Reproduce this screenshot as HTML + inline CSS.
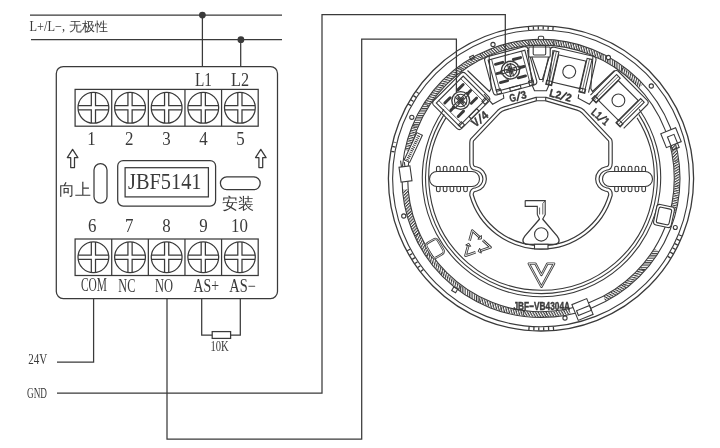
<!DOCTYPE html>
<html><head><meta charset="utf-8"><style>
html,body{margin:0;padding:0;background:#fff;width:720px;height:448px;overflow:hidden}
svg{display:block;will-change:transform}
</style></head><body>
<svg width="720" height="448" viewBox="0 0 720 448">
<g stroke="#3a3a3a" stroke-width="1.25" fill="none">
<path d="M30,15.1H282M31,39.7H282" />
<path d="M202.4,15.1V66.5M240.7,39.7V66.5" />
<rect x="56.3" y="66.5" width="221.2" height="232" rx="7" />
<rect x="75.1" y="89.4" width="183.1" height="36.8" />
<path d="M111.72,89.4V126.2" />
<path d="M148.34,89.4V126.2" />
<path d="M184.96,89.4V126.2" />
<path d="M221.58,89.4V126.2" />
<circle cx="93.41" cy="107.80" r="15.4" />
<path d="M91.31,92.54V105.70H78.15M78.15,109.90H91.31V123.06M95.51,123.06V109.90H108.67M108.67,105.70H95.51V92.54" />
<circle cx="130.03" cy="107.80" r="15.4" />
<path d="M127.93,92.54V105.70H114.77M114.77,109.90H127.93V123.06M132.13,123.06V109.90H145.29M145.29,105.70H132.13V92.54" />
<circle cx="166.65" cy="107.80" r="15.4" />
<path d="M164.55,92.54V105.70H151.39M151.39,109.90H164.55V123.06M168.75,123.06V109.90H181.91M181.91,105.70H168.75V92.54" />
<circle cx="203.27" cy="107.80" r="15.4" />
<path d="M201.17,92.54V105.70H188.01M188.01,109.90H201.17V123.06M205.37,123.06V109.90H218.53M218.53,105.70H205.37V92.54" />
<circle cx="239.89" cy="107.80" r="15.4" />
<path d="M237.79,92.54V105.70H224.63M224.63,109.90H237.79V123.06M241.99,123.06V109.90H255.15M255.15,105.70H241.99V92.54" />
<rect x="75.1" y="239.0" width="183.1" height="36.5" />
<path d="M111.72,239.0V275.5" />
<path d="M148.34,239.0V275.5" />
<path d="M184.96,239.0V275.5" />
<path d="M221.58,239.0V275.5" />
<circle cx="93.41" cy="257.25" r="15.4" />
<path d="M91.31,241.99V255.15H78.15M78.15,259.35H91.31V272.51M95.51,272.51V259.35H108.67M108.67,255.15H95.51V241.99" />
<circle cx="130.03" cy="257.25" r="15.4" />
<path d="M127.93,241.99V255.15H114.77M114.77,259.35H127.93V272.51M132.13,272.51V259.35H145.29M145.29,255.15H132.13V241.99" />
<circle cx="166.65" cy="257.25" r="15.4" />
<path d="M164.55,241.99V255.15H151.39M151.39,259.35H164.55V272.51M168.75,272.51V259.35H181.91M181.91,255.15H168.75V241.99" />
<circle cx="203.27" cy="257.25" r="15.4" />
<path d="M201.17,241.99V255.15H188.01M188.01,259.35H201.17V272.51M205.37,272.51V259.35H218.53M218.53,255.15H205.37V241.99" />
<circle cx="239.89" cy="257.25" r="15.4" />
<path d="M237.79,241.99V255.15H224.63M224.63,259.35H237.79V272.51M241.99,272.51V259.35H255.15M255.15,255.15H241.99V241.99" />
<path d="M72.6,149.3L77.89999999999999,157.60000000000002H74.5V167.60000000000002H70.69999999999999V157.60000000000002H67.3Z" stroke-linejoin="round" />
<path d="M260.8,149.3L266.1,157.60000000000002H262.7V167.60000000000002H258.90000000000003V157.60000000000002H255.5Z" stroke-linejoin="round" />
<rect x="94" y="163.6" width="13" height="39.6" rx="6.5" />
<rect x="220.4" y="176.9" width="39.8" height="12.8" rx="6.4" />
<rect x="117.7" y="160.5" width="97.9" height="45.6" rx="5.5" />
<rect x="125.1" y="167.7" width="83.3" height="29.2" />
<path d="M93.6,298.5V362.2H57" />
<path d="M57,393H322V14.7H505.3V67" />
<path d="M167,298.5V439.2H361.7V39.1H456.4V98" />
<path d="M201.7,298.5V335H212.2M230.6,335H240.3V298.5" />
<rect x="212.2" y="331.6" width="18.4" height="6.8" />
</g>
<g fill="#3a3a3a" stroke="none"><circle cx="202.4" cy="15.1" r="3.4"/><circle cx="240.9" cy="39.7" r="3.4"/></g>
<g fill="#3a3a3a">
<text x="29.5" y="30.7" font-size="14" font-family="Liberation Serif" text-anchor="start" textLength="35.5" lengthAdjust="spacingAndGlyphs" >L+/L−,</text>
<text x="68.8" y="31.2" font-size="12.8" font-family="Liberation Serif" text-anchor="start" >无极性</text>
<text x="195" y="85.9" font-size="18" font-family="Liberation Serif" text-anchor="start" textLength="17" lengthAdjust="spacingAndGlyphs" >L1</text>
<text x="231" y="85.9" font-size="18" font-family="Liberation Serif" text-anchor="start" textLength="18" lengthAdjust="spacingAndGlyphs" >L2</text>
<text transform="translate(91.5,145) scale(0.88,1)" font-size="19.2" font-family="Liberation Serif" text-anchor="middle" >1</text>
<text transform="translate(129.3,145) scale(0.88,1)" font-size="19.2" font-family="Liberation Serif" text-anchor="middle" >2</text>
<text transform="translate(166.5,145) scale(0.88,1)" font-size="19.2" font-family="Liberation Serif" text-anchor="middle" >3</text>
<text transform="translate(203.5,145) scale(0.88,1)" font-size="19.2" font-family="Liberation Serif" text-anchor="middle" >4</text>
<text transform="translate(240.5,145) scale(0.88,1)" font-size="19.2" font-family="Liberation Serif" text-anchor="middle" >5</text>
<text transform="translate(92.3,231.6) scale(0.88,1)" font-size="19.2" font-family="Liberation Serif" text-anchor="middle" >6</text>
<text transform="translate(129.3,231.6) scale(0.88,1)" font-size="19.2" font-family="Liberation Serif" text-anchor="middle" >7</text>
<text transform="translate(166.5,231.6) scale(0.88,1)" font-size="19.2" font-family="Liberation Serif" text-anchor="middle" >8</text>
<text transform="translate(203.5,231.6) scale(0.88,1)" font-size="19.2" font-family="Liberation Serif" text-anchor="middle" >9</text>
<text transform="translate(239.5,231.6) scale(0.88,1)" font-size="19.2" font-family="Liberation Serif" text-anchor="middle" >10</text>
<text x="128" y="188.5" font-size="22.3" font-family="Liberation Serif" text-anchor="start" textLength="73.5" lengthAdjust="spacingAndGlyphs" >JBF5141</text>
<text x="58.5" y="194.5" font-size="16" font-family="Liberation Serif" text-anchor="start" >向上</text>
<text x="222" y="209" font-size="16" font-family="Liberation Serif" text-anchor="start" >安装</text>
<text x="81" y="290.8" font-size="18" font-family="Liberation Serif" text-anchor="start" textLength="26" lengthAdjust="spacingAndGlyphs" >COM</text>
<text x="118.3" y="292" font-size="18" font-family="Liberation Serif" text-anchor="start" textLength="17" lengthAdjust="spacingAndGlyphs" >NC</text>
<text x="155" y="291.8" font-size="18" font-family="Liberation Serif" text-anchor="start" textLength="18" lengthAdjust="spacingAndGlyphs" >NO</text>
<text x="193.5" y="291.8" font-size="18" font-family="Liberation Serif" text-anchor="start" textLength="25.5" lengthAdjust="spacingAndGlyphs" >AS+</text>
<text x="229.3" y="291.8" font-size="18" font-family="Liberation Serif" text-anchor="start" textLength="26.5" lengthAdjust="spacingAndGlyphs" >AS−</text>
<text x="210.4" y="350.9" font-size="14.3" font-family="Liberation Serif" text-anchor="start" textLength="18.3" lengthAdjust="spacingAndGlyphs" >10K</text>
<text x="28.2" y="364.3" font-size="14.5" font-family="Liberation Serif" text-anchor="start" textLength="19" lengthAdjust="spacingAndGlyphs" >24V</text>
<text x="27" y="398.4" font-size="14.5" font-family="Liberation Serif" text-anchor="start" textLength="20" lengthAdjust="spacingAndGlyphs" >GND</text>
</g>
<defs><pattern id="hatch0" patternUnits="userSpaceOnUse" width="2.3" height="2.3" patternTransform="rotate(0)"><rect x="0" y="0" width="1.15" height="2.3" fill="#3a3a3a"/></pattern><pattern id="hatch1" patternUnits="userSpaceOnUse" width="2.3" height="2.3" patternTransform="rotate(15)"><rect x="0" y="0" width="1.15" height="2.3" fill="#3a3a3a"/></pattern><pattern id="hatch2" patternUnits="userSpaceOnUse" width="2.3" height="2.3" patternTransform="rotate(30)"><rect x="0" y="0" width="1.15" height="2.3" fill="#3a3a3a"/></pattern><pattern id="hatch3" patternUnits="userSpaceOnUse" width="2.3" height="2.3" patternTransform="rotate(45)"><rect x="0" y="0" width="1.15" height="2.3" fill="#3a3a3a"/></pattern><pattern id="hatch4" patternUnits="userSpaceOnUse" width="2.3" height="2.3" patternTransform="rotate(60)"><rect x="0" y="0" width="1.15" height="2.3" fill="#3a3a3a"/></pattern><pattern id="hatch5" patternUnits="userSpaceOnUse" width="2.3" height="2.3" patternTransform="rotate(75)"><rect x="0" y="0" width="1.15" height="2.3" fill="#3a3a3a"/></pattern><pattern id="hatch6" patternUnits="userSpaceOnUse" width="2.3" height="2.3" patternTransform="rotate(90)"><rect x="0" y="0" width="1.15" height="2.3" fill="#3a3a3a"/></pattern><pattern id="hatch7" patternUnits="userSpaceOnUse" width="2.3" height="2.3" patternTransform="rotate(105)"><rect x="0" y="0" width="1.15" height="2.3" fill="#3a3a3a"/></pattern><pattern id="hatch8" patternUnits="userSpaceOnUse" width="2.3" height="2.3" patternTransform="rotate(120)"><rect x="0" y="0" width="1.15" height="2.3" fill="#3a3a3a"/></pattern><pattern id="hatch9" patternUnits="userSpaceOnUse" width="2.3" height="2.3" patternTransform="rotate(135)"><rect x="0" y="0" width="1.15" height="2.3" fill="#3a3a3a"/></pattern><pattern id="hatch10" patternUnits="userSpaceOnUse" width="2.3" height="2.3" patternTransform="rotate(150)"><rect x="0" y="0" width="1.15" height="2.3" fill="#3a3a3a"/></pattern><pattern id="hatch11" patternUnits="userSpaceOnUse" width="2.3" height="2.3" patternTransform="rotate(165)"><rect x="0" y="0" width="1.15" height="2.3" fill="#3a3a3a"/></pattern></defs>
<g stroke="#3a3a3a" fill="none" stroke-width="1.1">
<circle cx="541.0" cy="178.4" r="152.6" stroke-width="1.3" />
<circle cx="541.0" cy="178.4" r="148.4" />
<path d="M527.88,28.47A150.5,150.5 0 0 1 554.12,28.47" stroke-width="3.3" stroke-dasharray="1.3 3.6" />
<path d="M554.12,328.33A150.5,150.5 0 0 1 527.88,328.33" stroke-width="3.3" stroke-dasharray="1.3 3.6" />
<path d="M409.37,105.44A150.5,150.5 0 0 1 417.72,92.08" stroke-width="3.3" stroke-dasharray="1.3 3.6" />
<path d="M422.40,271.06A150.5,150.5 0 0 1 408.12,249.06" stroke-width="3.3" stroke-dasharray="1.3 3.6" />
<path d="M680.54,234.78A150.5,150.5 0 0 1 668.63,258.15" stroke-width="3.3" stroke-dasharray="1.3 3.6" />
<path d="M392.79,152.27A150.5,150.5 0 0 1 394.97,141.99" stroke-width="3.3" stroke-dasharray="1.3 3.6" />
<circle cx="541.0" cy="178.4" r="139" />
<circle cx="541.0" cy="178.4" r="133.3" />
<path d="M570.00,311.42A136.15,136.15 0 0 1 545.75,314.47" stroke-width="5" stroke="url(#hatch10)" />
<path d="M547.18,314.41A136.15,136.15 0 0 1 522.76,313.32" stroke-width="5" stroke="url(#hatch10)" />
<path d="M524.17,313.51A136.15,136.15 0 0 1 500.29,308.32" stroke-width="5" stroke="url(#hatch11)" />
<path d="M501.65,308.74A136.15,136.15 0 0 1 478.98,299.60" stroke-width="5" stroke="url(#hatch11)" />
<path d="M480.25,300.25A136.15,136.15 0 0 1 459.44,287.42" stroke-width="5" stroke="url(#hatch0)" />
<path d="M460.59,288.27A136.15,136.15 0 0 1 442.24,272.12" stroke-width="5" stroke="url(#hatch1)" />
<path d="M443.23,273.15A136.15,136.15 0 0 1 427.86,254.14" stroke-width="5" stroke="url(#hatch1)" />
<path d="M428.66,255.32A136.15,136.15 0 0 1 416.72,233.99" stroke-width="5" stroke="url(#hatch2)" />
<path d="M417.31,235.29A136.15,136.15 0 0 1 409.13,212.26" stroke-width="5" stroke="url(#hatch3)" />
<path d="M409.49,213.64A136.15,136.15 0 0 1 405.31,189.56" stroke-width="5" stroke="url(#hatch3)" />
<path d="M407.68,150.79A136.15,136.15 0 0 1 415.41,125.82" stroke-width="5" stroke="url(#hatch5)" />
<path d="M414.87,127.14A136.15,136.15 0 0 1 426.99,103.98" stroke-width="5" stroke="url(#hatch6)" />
<path d="M426.21,105.18A136.15,136.15 0 0 1 442.32,84.59" stroke-width="5" stroke="url(#hatch7)" />
<path d="M441.35,85.63A136.15,136.15 0 0 1 460.91,68.30" stroke-width="5" stroke="url(#hatch7)" />
<path d="M459.76,69.14A136.15,136.15 0 0 1 482.14,55.63" stroke-width="5" stroke="url(#hatch8)" />
<path d="M480.85,56.26A136.15,136.15 0 0 1 505.30,47.01" stroke-width="5" stroke="url(#hatch9)" />
<path d="M503.93,47.39A136.15,136.15 0 0 1 529.65,42.72" stroke-width="5" stroke="url(#hatch9)" />
<path d="M528.23,42.85A136.15,136.15 0 0 1 554.36,42.91" stroke-width="5" stroke="url(#hatch10)" />
<path d="M552.95,42.78A136.15,136.15 0 0 1 578.64,47.56" stroke-width="5" stroke="url(#hatch11)" />
<path d="M577.27,47.17A136.15,136.15 0 0 1 601.68,56.52" stroke-width="5" stroke="url(#hatch11)" />
<path d="M600.40,55.89A136.15,136.15 0 0 1 622.72,69.50" stroke-width="5" stroke="url(#hatch0)" />
<path d="M621.57,68.65A136.15,136.15 0 0 1 641.06,86.07" stroke-width="5" stroke="url(#hatch1)" />
<path d="M670.26,135.65A136.15,136.15 0 0 1 676.13,161.73" stroke-width="5" stroke="url(#hatch3)" />
<path d="M675.94,160.31A136.15,136.15 0 0 1 676.88,187.03" stroke-width="5" stroke="url(#hatch4)" />
<path d="M676.96,185.60A136.15,136.15 0 0 1 672.93,212.03" stroke-width="5" stroke="url(#hatch5)" />
<path d="M656.84,249.94A136.15,136.15 0 0 1 641.70,270.03" stroke-width="5" stroke="url(#hatch6)" />
<path d="M642.65,268.97A136.15,136.15 0 0 1 624.26,286.13" stroke-width="5" stroke="url(#hatch7)" />
<path d="M625.38,285.25A136.15,136.15 0 0 1 604.29,298.95" stroke-width="5" stroke="url(#hatch8)" />
<path d="M639.14,109.23A119.2,119.2 0 1 1 443.86,109.23" />
<path d="M638.79,114.42A116.0,116.0 0 1 1 444.21,114.42" />
<path d="M637.08,117.88A112.7,112.7 0 1 1 445.92,117.88" />
<g transform="translate(618.4,100.4) rotate(45)"><path d="M-23.5,16V-17Q-23.5,-20.5 -20,-20.5H20Q23.5,-20.5 23.5,-17V16" /><rect x="-14" y="-14" width="28" height="28" /><rect x="-19.5" y="-17" width="5" height="34" /><rect x="14.5" y="-17" width="5" height="34" /><path d="M-17,-17V17M17,-17V17" stroke-width="0.7"/><rect x="-20" y="13.5" width="6" height="4" /><rect x="14" y="13.5" width="6" height="4" /><circle cx="0" cy="0" r="6.4" /></g>
<g transform="translate(569.2,71.7) rotate(13)"><path d="M-23.5,16V-17Q-23.5,-20.5 -20,-20.5H20Q23.5,-20.5 23.5,-17V16" /><rect x="-14" y="-14" width="28" height="28" /><rect x="-19.5" y="-17" width="5" height="34" /><rect x="14.5" y="-17" width="5" height="34" /><path d="M-17,-17V17M17,-17V17" stroke-width="0.7"/><rect x="-20" y="13.5" width="6" height="4" /><rect x="14" y="13.5" width="6" height="4" /><circle cx="0" cy="0" r="6.4" /></g>
<g transform="translate(510.5,70.1) rotate(-15)"><rect x="-22.5" y="-19" width="45" height="39.5" rx="3.5" /><rect x="-19" y="-15.5" width="38" height="32.5" /><path d="M-15.5,-15.5V17M15.5,-15.5V17" stroke-width="0.8"/><rect x="-5.5" y="17" width="11" height="3.5" /><rect x="-19" y="15.5" width="4.5" height="4.5" /><rect x="14.5" y="15.5" width="4.5" height="4.5" /><path d="M-13,-9.5H-5.5M5.5,-9.5H13M-14,0H-10M10,0H14M-13,9.5H-5.5M5.5,9.5H13" stroke-width="2.9" stroke-linecap="round" /><circle cx="0" cy="0" r="8.9" fill="#fff" stroke-width="1.4"/><circle cx="0" cy="0" r="6.2" /><path d="M-10.5,-1.5H10.5M-10.5,1.5H10.5M-1.5,-7V7M1.5,-7V7" stroke-width="1.1" /><path d="M-4.5,0H4.5M0,-4.5V4.5" stroke-width="1.6" /></g>
<g transform="translate(460.7,100.5) rotate(-45)"><rect x="-22.5" y="-19" width="45" height="39.5" rx="3.5" /><rect x="-19" y="-15.5" width="38" height="32.5" /><path d="M-15.5,-15.5V17M15.5,-15.5V17" stroke-width="0.8"/><rect x="-5.5" y="17" width="11" height="3.5" /><rect x="-19" y="15.5" width="4.5" height="4.5" /><rect x="14.5" y="15.5" width="4.5" height="4.5" /><path d="M-13,-9.5H-5.5M5.5,-9.5H13M-14,0H-10M10,0H14M-13,9.5H-5.5M5.5,9.5H13" stroke-width="2.9" stroke-linecap="round" /><circle cx="0" cy="0" r="8.9" fill="#fff" stroke-width="1.4"/><circle cx="0" cy="0" r="6.2" /><path d="M-10.5,-1.5H10.5M-10.5,1.5H10.5M-1.5,-7V7M1.5,-7V7" stroke-width="1.1" /><path d="M-4.5,0H4.5M0,-4.5V4.5" stroke-width="1.6" /></g>
<rect x="528.8" y="47" width="21.4" height="10" rx="1" fill="#fff"/><rect x="533.2" y="45.5" width="12.5" height="9.5" rx="1.2" />
<rect x="538.3" y="36.3" width="5.4" height="3.4" rx="1.5" fill="#fff"/>
<path d="M531.80,56.80 L539.60,79.50 L542.40,79.50 L549.30,56.80" />
<path d="M527.50,50.00 L532.50,86.00 L534.50,90.80 L546.50,90.80 L548.50,86.00 L553.00,50.00" />
<path d="M593.00,55.00 L590.80,88.50 L592.50,91.50 L614.50,70.50" /><path d="M489.00,55.00 L491.20,88.50 L489.50,91.50 L467.50,70.50" />
<path d="M578.70,94.40 L578.20,98.30 L589.40,104.20 L598.00,94.00" /><path d="M503.30,94.40 L503.80,98.30 L492.60,104.20 L484.00,94.00" />
<path d="M536.5,99 H545.5 L577.5,108.5 Q581,109.5 583,111.5 L610,140 Q610.5,141 610.5,143 V163 Q610.5,168.5 606,168.5 A10.7,10.7 0 0 0 606,189.5 Q610.5,189.5 610.5,195 A72.3,72.3 0 0 1 471.5,195 Q471.5,189.5 476,189.5 A10.7,10.7 0 0 0 476,168.5 Q471.5,168.5 471.5,163 V143 Q471.5,141 472,140 L499,111.5 Q501,109.5 504.5,108.5 Z" stroke-width="4.6" stroke-linejoin="round" />
<path d="M536.5,99 H545.5 L577.5,108.5 Q581,109.5 583,111.5 L610,140 Q610.5,141 610.5,143 V163 Q610.5,168.5 606,168.5 A10.7,10.7 0 0 0 606,189.5 Q610.5,189.5 610.5,195 A72.3,72.3 0 0 1 471.5,195 Q471.5,189.5 476,189.5 A10.7,10.7 0 0 0 476,168.5 Q471.5,168.5 471.5,163 V143 Q471.5,141 472,140 L499,111.5 Q501,109.5 504.5,108.5 Z" stroke="#fff" stroke-width="2.3" stroke-linejoin="round" />
<path d="M536.3,97V100.8M545.7,97V100.8" />
<rect x="429.50" y="171.5" width="50.00" height="15" rx="7.5" fill="#fff" />
<path d="M463.70,171.5V167.8Q463.70,166.3 465.50,166.3Q467.30,166.3 467.30,167.8V171.5" />
<path d="M463.70,186.5V190.2Q463.70,191.7 465.50,191.7Q467.30,191.7 467.30,190.2V186.5" />
<path d="M456.90,171.5V167.8Q456.90,166.3 458.70,166.3Q460.50,166.3 460.50,167.8V171.5" />
<path d="M456.90,186.5V190.2Q456.90,191.7 458.70,191.7Q460.50,191.7 460.50,190.2V186.5" />
<path d="M450.10,171.5V167.8Q450.10,166.3 451.90,166.3Q453.70,166.3 453.70,167.8V171.5" />
<path d="M450.10,186.5V190.2Q450.10,191.7 451.90,191.7Q453.70,191.7 453.70,190.2V186.5" />
<path d="M443.30,171.5V167.8Q443.30,166.3 445.10,166.3Q446.90,166.3 446.90,167.8V171.5" />
<path d="M443.30,186.5V190.2Q443.30,191.7 445.10,191.7Q446.90,191.7 446.90,190.2V186.5" />
<path d="M436.50,171.5V167.8Q436.50,166.3 438.30,166.3Q440.10,166.3 440.10,167.8V171.5" />
<path d="M436.50,186.5V190.2Q436.50,191.7 438.30,191.7Q440.10,191.7 440.10,190.2V186.5" />
<rect x="602.50" y="171.5" width="50.00" height="15" rx="7.5" fill="#fff" />
<path d="M614.70,171.5V167.8Q614.70,166.3 616.50,166.3Q618.30,166.3 618.30,167.8V171.5" />
<path d="M614.70,186.5V190.2Q614.70,191.7 616.50,191.7Q618.30,191.7 618.30,190.2V186.5" />
<path d="M621.50,171.5V167.8Q621.50,166.3 623.30,166.3Q625.10,166.3 625.10,167.8V171.5" />
<path d="M621.50,186.5V190.2Q621.50,191.7 623.30,191.7Q625.10,191.7 625.10,190.2V186.5" />
<path d="M628.30,171.5V167.8Q628.30,166.3 630.10,166.3Q631.90,166.3 631.90,167.8V171.5" />
<path d="M628.30,186.5V190.2Q628.30,191.7 630.10,191.7Q631.90,191.7 631.90,190.2V186.5" />
<path d="M635.10,171.5V167.8Q635.10,166.3 636.90,166.3Q638.70,166.3 638.70,167.8V171.5" />
<path d="M635.10,186.5V190.2Q635.10,191.7 636.90,191.7Q638.70,191.7 638.70,190.2V186.5" />
<path d="M641.90,171.5V167.8Q641.90,166.3 643.70,166.3Q645.50,166.3 645.50,167.8V171.5" />
<path d="M641.90,186.5V190.2Q641.90,191.7 643.70,191.7Q645.50,191.7 645.50,190.2V186.5" />
<path d="M525.2,200.6H545.2V214.5L542.6,219.2M537.3,214.5V206.4H525.2V200.6M537.3,214.5L539.6,219.2" />
<path d="M539.6,207.5V214.5M542.8,203.5V214.5M542.8,203.5L545.2,200.6" stroke-width="0.8" />
<path d="M539.6,219L524.8,236.2Q520.5,242 526,244.3H556Q561.5,242 557.2,236.2L542.6,219" stroke-width="1.3"/>
<circle cx="541.25" cy="234.4" r="6.7" />
<rect x="534.5" y="244.3" width="13.5" height="4.6" fill="#fff"/>
<path d="M528.8,263.6H535.4L541.4,275L547.4,263.6H554.1L541.4,286.8Z" stroke-width="2.4" stroke-linejoin="round"/>
<path d="M528.8,263.6H535.4L541.4,275L547.4,263.6H554.1L541.4,286.8Z" stroke="#fff" stroke-width="0.8" stroke-linejoin="round"/>
<path d="M469.58,240.64L472.30,230.60L479.58,237.28M482.86,240.29L490.50,247.30L480.50,250.66M475.50,252.34L465.50,255.70L468.22,245.66" stroke-width="2.6" stroke-linejoin="round"/>
<path d="M469.58,240.64L472.30,230.60L479.58,237.28M482.86,240.29L490.50,247.30L480.50,250.66M475.50,252.34L465.50,255.70L468.22,245.66" stroke="#fff" stroke-width="0.9" stroke-linejoin="round"/>
<path d="M481.42,238.97L477.82,239.20L481.34,235.36Z" stroke-width="1" />
<path d="M478.13,251.46L479.67,248.20L481.33,253.12Z" stroke-width="1" />
<path d="M468.87,243.25L470.73,246.34L465.71,244.98Z" stroke-width="1" />
<g transform="translate(435,248.5) rotate(-30)"><rect x="-6.5" y="-8.5" width="13" height="17" rx="3" stroke-width="2.3"/><rect x="-6.5" y="-8.5" width="13" height="17" rx="3" stroke="#fff" stroke-width="0.7"/></g>
<g transform="translate(664,216) rotate(12)"><rect x="-9" y="-10.5" width="18" height="21" rx="3" fill="#fff"/><rect x="-6.5" y="-8" width="13" height="16" rx="2" /></g><circle cx="675.3" cy="227.5" r="2" />
<g transform="translate(413.3,147.5) rotate(-65)"><rect x="-15" y="-3" width="30" height="6" fill="#fff"/><path d="M-14,0H14" stroke-width="3" stroke-dasharray="1 1"/></g>
<g transform="translate(405.5,174) rotate(-8)"><rect x="-5.5" y="-7.5" width="11" height="15" fill="#fff"/><path d="M-3,-7.5V-14M0.5,-7.5V-12" /></g>
<g transform="translate(671,137.7) rotate(-22)"><rect x="-8" y="-7.5" width="16" height="15" fill="#fff"/><rect x="-3" y="-2" width="7" height="14" /></g>
<g transform="translate(582.5,309.5) rotate(-22)"><rect x="-8" y="-8.5" width="16" height="17" fill="#fff"/><rect x="-6" y="-1" width="14" height="5" /></g>
<rect x="452.5" y="287.5" width="4.5" height="4.5" transform="rotate(30 454.75 289.75)" />
<circle cx="493" cy="44.5" r="2.1" fill="#fff" />
<circle cx="608.4" cy="57.5" r="2.1" fill="#fff" />
<circle cx="651.3" cy="86" r="2.1" fill="#fff" />
<circle cx="411.8" cy="117.3" r="2.1" fill="#fff" />
<circle cx="403.75" cy="216" r="2.1" fill="#fff" />
<circle cx="565" cy="318" r="2.1" fill="#fff" />
<rect x="470" y="56" width="4" height="3" transform="rotate(-25 472 57.5)" />
</g>
<g transform="translate(482.5,121.8) rotate(-38)" fill="#3a3a3a"><text x="-2.6" y="0" text-anchor="end" font-family="Liberation Sans" font-weight="bold" font-size="11.5" stroke="#3a3a3a" stroke-width="0.4" textLength="6.6" lengthAdjust="spacingAndGlyphs">V</text><text x="2.6" y="0" text-anchor="start" font-family="Liberation Sans" font-weight="bold" font-size="11.5" stroke="#3a3a3a" stroke-width="0.4" textLength="6.0" lengthAdjust="spacingAndGlyphs">4</text><path d="M-2.4,0.7L2.5,-8.3" stroke="#3a3a3a" stroke-width="1.6" /></g>
<g transform="translate(519.3,100) rotate(-14.5)" fill="#3a3a3a"><text x="-2.6" y="0" text-anchor="end" font-family="Liberation Sans" font-weight="bold" font-size="11" stroke="#3a3a3a" stroke-width="0.4" textLength="6.4" lengthAdjust="spacingAndGlyphs">G</text><text x="2.6" y="0" text-anchor="start" font-family="Liberation Sans" font-weight="bold" font-size="11" stroke="#3a3a3a" stroke-width="0.4" textLength="5.6" lengthAdjust="spacingAndGlyphs">3</text><path d="M-2.4,0.7L2.5,-8.3" stroke="#3a3a3a" stroke-width="1.6" /></g>
<g transform="translate(562.5,99.8) rotate(14.5)" fill="#3a3a3a"><text x="-2.6" y="0" text-anchor="end" font-family="Liberation Sans" font-weight="bold" font-size="11" stroke="#3a3a3a" stroke-width="0.4" textLength="11.5" lengthAdjust="spacingAndGlyphs">L2</text><text x="2.6" y="0" text-anchor="start" font-family="Liberation Sans" font-weight="bold" font-size="11" stroke="#3a3a3a" stroke-width="0.4" textLength="5.6" lengthAdjust="spacingAndGlyphs">2</text><path d="M-2.4,0.7L2.5,-8.3" stroke="#3a3a3a" stroke-width="1.6" /></g>
<g transform="translate(599.8,121.3) rotate(40.5)" fill="#3a3a3a"><text x="-2.6" y="0" text-anchor="end" font-family="Liberation Sans" font-weight="bold" font-size="11" stroke="#3a3a3a" stroke-width="0.4" textLength="9.5" lengthAdjust="spacingAndGlyphs">L1</text><text x="2.6" y="0" text-anchor="start" font-family="Liberation Sans" font-weight="bold" font-size="11" stroke="#3a3a3a" stroke-width="0.4" textLength="4.6" lengthAdjust="spacingAndGlyphs">1</text><path d="M-2.4,0.7L2.5,-8.3" stroke="#3a3a3a" stroke-width="1.6" /></g>
<text x="513.5" y="309.8" font-family="Liberation Sans" font-weight="bold" font-size="11.5" fill="#3a3a3a" stroke="#3a3a3a" stroke-width="0.45" textLength="56.5" lengthAdjust="spacingAndGlyphs">JBF−VB4304A</text>
</svg>
</body></html>
